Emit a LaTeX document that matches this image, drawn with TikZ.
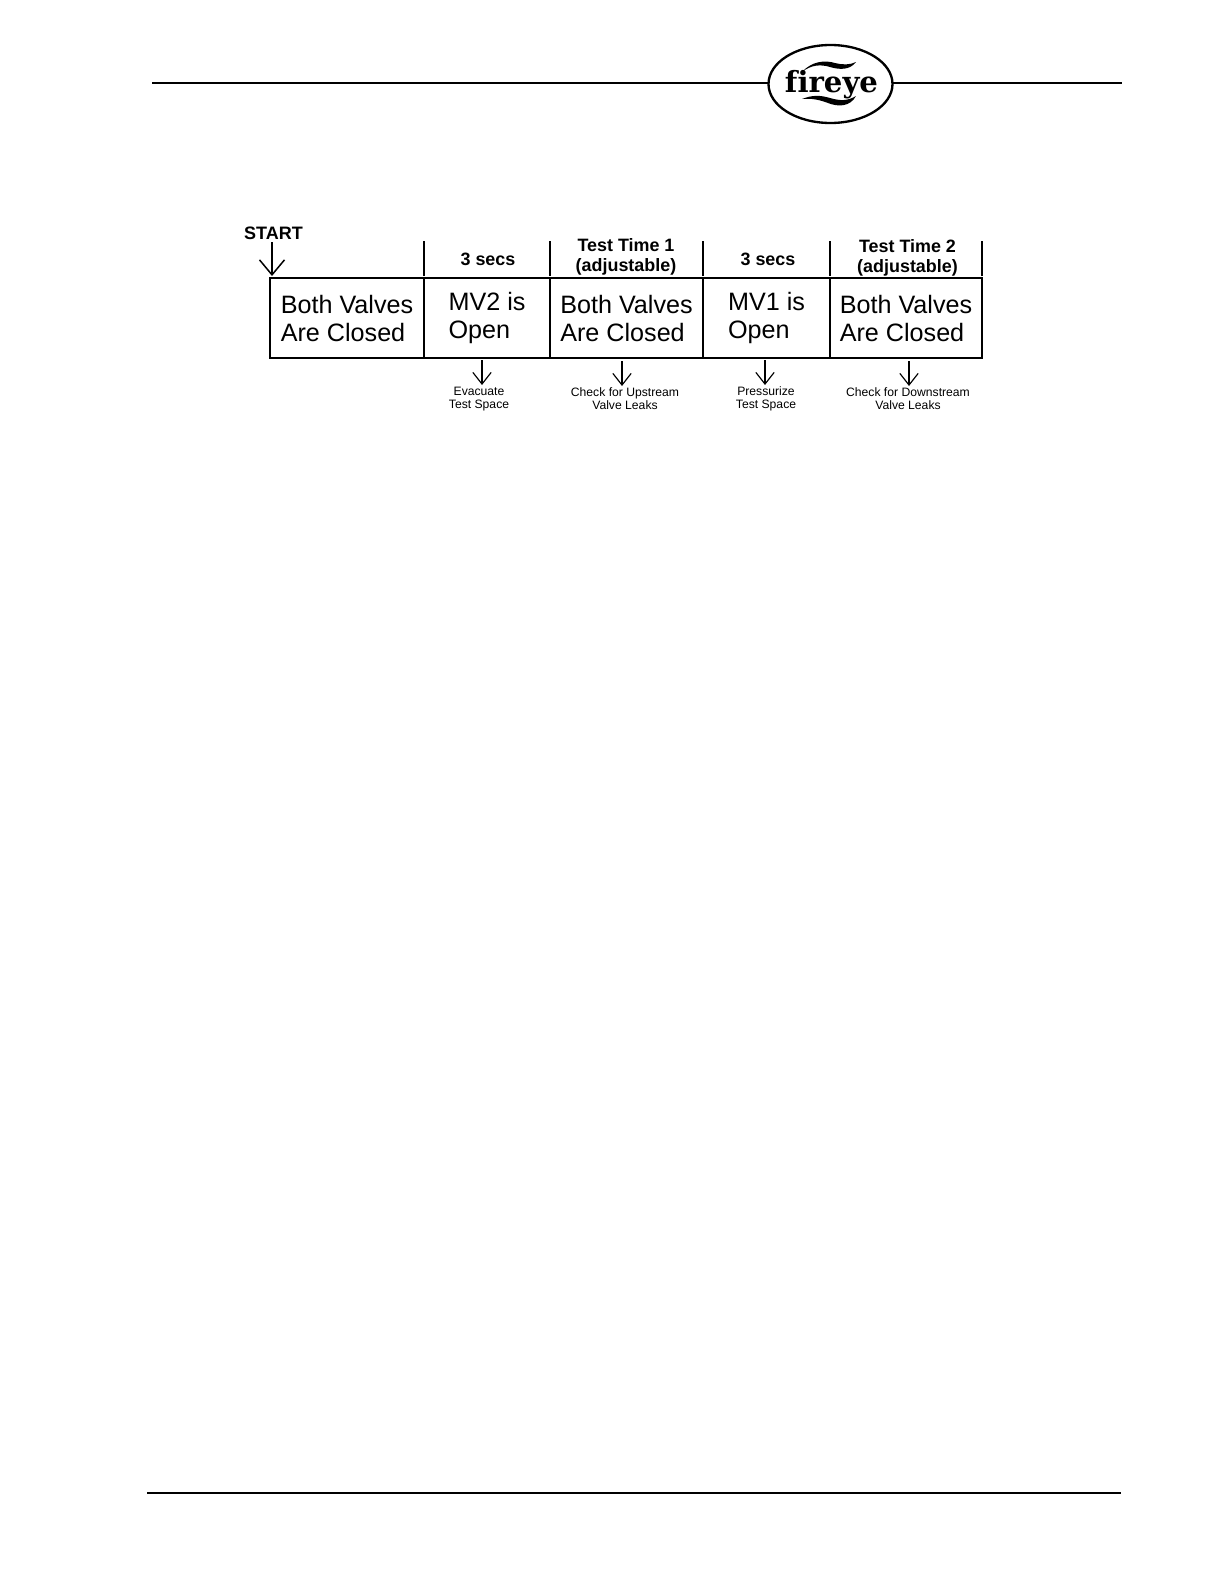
\documentclass[tikz,border=0pt]{standalone}
\usepackage{fontspec}
\setmainfont{Liberation Sans}
\newfontfamily\logofont[Ligatures=NoCommon]{DejaVu Serif}
\usetikzlibrary{arrows.meta,shapes.geometric}
\tikzset{
  x=0.6pt,y=-0.6pt,
  cell/.style={draw,line width=0.9pt,inner sep=0pt,outer sep=0pt,anchor=north west,minimum height=48pt,align=left,font=\fontsize{15.1}{16.8}\selectfont},
  head/.style={inner sep=0pt,align=center,font=\fontsize{10.75}{12.2}\selectfont\bfseries},
  note/.style={inner sep=0pt,align=center,font=\fontsize{7.3}{8.1}\selectfont},
  tick/.style={line width=1.3pt},
  bigarrow/.style={line width=0.9pt,-{Straight Barb[length=9pt,width=15pt,line width=0.9pt]}},
  smallarrow/.style={line width=0.7pt,-{Straight Barb[length=7pt,width=11pt,line width=0.7pt]}},
  rule/.style={line width=1.1pt},
}
\begin{document}
\begin{tikzpicture}
\useasboundingbox (0,0) rectangle (1224,1584);
\fill[white] (0,0) rectangle (1224,1584);
% header and footer
\coordinate (r1a) at (152,83);
\coordinate (r1b) at (1122,83);
\coordinate (r2a) at (147,1493);
\coordinate (r2b) at (1121,1493);
\node[draw,ellipse,line width=1.4pt,minimum width=74.4pt,minimum height=46.8pt,inner sep=0pt,outer sep=0pt] (logo) at (830.5,84) {};
\draw[rule] (r1a) -- (logo.west |- r1a);
\draw[rule] (logo.east |- r1b) -- (r1b);
\draw[rule] (r2a) -- (r2b);
\node[inner sep=0pt,anchor=base,font=\fontsize{17.5}{17.5}\selectfont\logofont\bfseries] (brand) at (831.5,92) {f{}ireye};
\fill (802,72) .. controls (812,61) and (825,60) .. (835,63) .. controls (843,65) and (850,65) .. (856,62) .. controls (850,70) and (840,70) .. (830,67) .. controls (820,64) and (811,65) .. (802,72) -- cycle;
\fill (802,99) .. controls (812,95) and (820,95) .. (830,98) .. controls (840,101) and (848,101) .. (856,96) .. controls (850,107) and (838,107) .. (828,103) .. controls (820,100) and (812,98) .. (802,99) -- cycle;
% cells
\node[cell,minimum width=92.4pt] (c1) at (270,278) {Both Valves\\Are Closed};
\node[cell,minimum width=75.6pt] (c2) at (424,278) {MV2 is\\Open};
\node[cell,minimum width=91.8pt] (c3) at (550,278) {Both Valves\\Are Closed};
\node[cell,minimum width=76.2pt] (c4) at (703,278) {MV1 is\\Open};
\node[cell,minimum width=91.2pt] (c5) at (830,278) {Both Valves\\Are Closed};
% ticks
\draw[tick] ([yshift=1.2pt]c2.north west) -- ++(0,-35);
\draw[tick] ([yshift=1.2pt]c3.north west) -- ++(0,-35);
\draw[tick] ([yshift=1.2pt]c4.north west) -- ++(0,-35);
\draw[tick] ([yshift=1.2pt]c5.north west) -- ++(0,-35);
\draw[tick] ([yshift=1.2pt]c5.north east) -- ++(0,-35);
% heads
\node[head,font=\fontsize{10.8}{12}\selectfont\bfseries] (start) at (273.5,233) {START};
\node[head] (h2) at (488,259) {3 secs};
\node[head] (h3) at (626,257) {Test Time 1\\(adjustable)};
\node[head] (h4) at (768,259) {3 secs};
\node[head] (h5) at (907.5,258) {Test Time 2\\(adjustable)};
% notes
\node[note] (n2) at (479,399) {Evacuate\\Test Space};
\node[note] (n3) at (625,398.5) {Check for Upstream\\Valve Leaks};
\node[note] (n4) at (766,399) {Pressurize\\Test Space};
\node[note] (n5) at (908,398.5) {Check for Downstream\\Valve Leaks};
% arrows
\coordinate (s0) at (272,242);
\coordinate (s1) at (272,276);
\draw[bigarrow] (s0) -- (s1);
\coordinate (a2) at (482,360); \coordinate (b2) at (482,385);
\coordinate (a3) at (622,361); \coordinate (b3) at (622,386);
\coordinate (a4) at (765,360); \coordinate (b4) at (765,385);
\coordinate (a5) at (909,361); \coordinate (b5) at (909,386);
\draw[smallarrow] (a2) -- (b2);
\draw[smallarrow] (a3) -- (b3);
\draw[smallarrow] (a4) -- (b4);
\draw[smallarrow] (a5) -- (b5);
\end{tikzpicture}
\end{document}
